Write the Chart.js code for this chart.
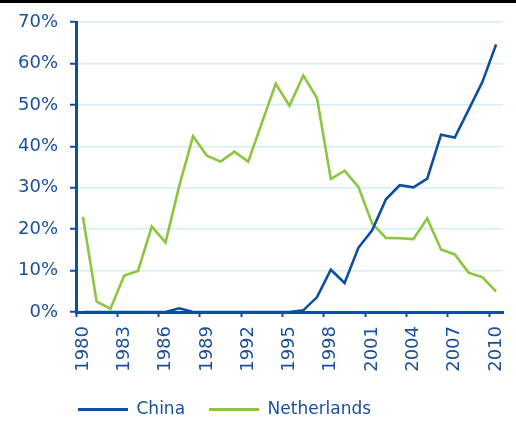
<!DOCTYPE html>
<html>
<head>
<meta charset="utf-8">
<script src="https://cdn.jsdelivr.net/npm/chart.js@4/dist/chart.umd.min.js"></script>
<style>
  html, body { margin: 0; padding: 0; background: #ffffff; }
  #wrap { position: relative; width: 516px; height: 423px; overflow: hidden; }
  #bar { position: absolute; left: 0; top: 0; width: 516px; height: 3px; background: #000; }
  #c { position: absolute; left: 0; top: 0; }
</style>
</head>
<body>
<div id="wrap">
  <canvas id="c" width="516" height="423"></canvas>
  <div id="bar"></div>
</div>
<script>
const years = [1980,1981,1982,1983,1984,1985,1986,1987,1988,1989,1990,1991,1992,1993,1994,1995,1996,1997,1998,1999,2000,2001,2002,2003,2004,2005,2006,2007,2008,2009,2010];
const china = [0,0,0,0,0,0,0,0.9,0,0,0,0,0,0,0,0,0.4,3.6,10.2,7.0,15.5,19.7,27.2,30.6,30.1,32.2,42.8,42.1,48.8,55.5,64.6];
const netherlands = [23.0,2.5,0.8,8.8,9.9,20.6,16.8,30.5,42.4,37.7,36.3,38.7,36.3,45.7,55.1,49.8,57.1,51.6,32.1,34.1,30.2,21.4,17.9,17.8,17.6,22.6,15.1,13.9,9.5,8.4,4.9];
const yTicks = [0,10,20,30,40,50,60,70];
const seriesNames = ['China','Netherlands'];

const BLUE = '#0d4ea2';
const GREEN = '#8cc63f';
const TEXT = '#1b4f9c';
const GRID = '#d5eef9';
const FONT = 'DejaVu Sans';

const legendShift = {
  id: 'legendShift',
  afterLayout(chart) {
    const l = chart.legend;
    if (!l) return;
    const pad = l.options.labels.padding;
    const dx = (78 - pad) - l.left;
    l.left += dx; l.right += dx;
    const dy = (410 - pad - 9) - l.top;
    l.top += dy; l.bottom += dy;
  }
};

new Chart(document.getElementById('c'), {
  type: 'line',
  data: {
    labels: years.map(String),
    datasets: [
      { label: seriesNames[0], data: china, borderColor: BLUE, backgroundColor: BLUE, borderWidth: 2.6, pointRadius: 0, tension: 0 },
      { label: seriesNames[1], data: netherlands, borderColor: GREEN, backgroundColor: GREEN, borderWidth: 2.6, pointRadius: 0, tension: 0 }
    ]
  },
  options: {
    responsive: false,
    animation: false,
    layout: { padding: { left: 0, right: 13, top: 22, bottom: 0 } },
    plugins: {
      tooltip: { enabled: false },
      legend: {
        position: 'bottom',
        align: 'start',
        labels: {
          color: TEXT,
          font: { family: FONT, size: 17 },
          boxWidth: 50,
          boxHeight: 3,
          padding: 24,
          generateLabels(chart) {
            return chart.data.datasets.map((ds, i) => ({
              text: ds.label,
              fillStyle: ds.borderColor,
              strokeStyle: ds.borderColor,
              lineWidth: 0,
              fontColor: TEXT,
              datasetIndex: i,
              hidden: false
            }));
          }
        }
      }
    },
    scales: {
      x: {
        type: 'category',
        offset: true,
        afterFit(s) { s.height = 60; s.paddingLeft = 0; s.paddingRight = 0; },
        grid: {
          offset: true,
          drawOnChartArea: false,
          drawTicks: true,
          tickLength: 5,
          tickWidth: 2,
          tickColor: (ctx) => (ctx.index % 3 === 0 ? BLUE : 'rgba(0,0,0,0)'),
          color: 'rgba(0,0,0,0)'
        },
        border: { display: true, color: BLUE, width: 3 },
        ticks: {
          autoSkip: false,
          minRotation: 90,
          maxRotation: 90,
          padding: 9,
          color: TEXT,
          font: { family: FONT, size: 18 },
          callback(v, i) { return i % 3 === 0 ? String(years[i]) : ''; }
        }
      },
      y: {
        min: 0,
        max: 70,
        afterFit(s) { s.width = 76; s.paddingTop = 0; s.paddingBottom = 0; },
        afterBuildTicks(s) { s.ticks = yTicks.map(v => ({ value: v })); },
        grid: {
          color: GRID,
          lineWidth: 1.5,
          drawTicks: true,
          tickLength: 6,
          tickWidth: 2,
          tickColor: BLUE
        },
        border: { display: true, color: BLUE, width: 3 },
        ticks: {
          padding: 12,
          color: TEXT,
          font: { family: FONT, size: 18 },
          callback(v) { return v + '%'; }
        }
      }
    }
  },
  plugins: [legendShift]
});
</script>
</body>
</html>
